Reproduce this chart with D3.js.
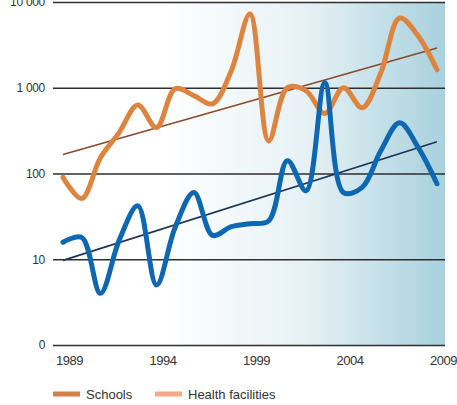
<!DOCTYPE html>
<html>
<head>
<meta charset="utf-8">
<script src="https://cdn.jsdelivr.net/npm/d3@7"></script>
<style>
  body { margin: 0; background: #fff; }
  text { font-family: "Liberation Sans", Arial, sans-serif; }
</style>
</head>
<body>
<div id="chart"></div>
<script>
var svgWidth = 457;
var svgHeight = 405;

// data
var years = d3.range(1989, 2010);
var schools = [90, 51, 153, 300, 630, 343, 975, 810, 650, 1580, 7250, 240, 1000, 920, 500, 1000, 585, 1500, 6500, 4000, 1620];
var health = [15.8, 18, 4.0, 16.6, 42, 5.0, 23.6, 60, 19, 24, 26, 28, 141, 63, 1145, 60, 69, 185, 390, 200, 76];
var schoolsTrend = [167, 2900];
var healthTrend = [9.7, 235];
var yTicks = [1, 10, 100, 1000, 10000];
var yTickLabels = ["0", "10", "100", "1 000", "10 000"];
var xTicks = [1989, 1994, 1999, 2004, 2009];
var legendItems = ["Schools", "Health facilities"];
var legendColors = ["#d3804a", "#f6a887"];

var plotLeft = 53, plotRight = 445, plotTop = 2, plotBottom = 345;

var svg = d3.select("#chart")
  .append("svg")
    .attr("width", svgWidth)
    .attr("height", svgHeight);

var x = d3.scaleLinear().domain([1989, 2009]).range([63, 437]);
var y = d3.scaleLog().domain([1, 10000]).range([plotBottom, plotTop]);

// background gradient
var grad = svg.append("defs").append("linearGradient")
  .attr("id", "bg")
  .attr("x1", "0%").attr("x2", "100%").attr("y1", "0%").attr("y2", "0%");
grad.append("stop").attr("offset", "28%").attr("stop-color", "#ffffff");
grad.append("stop").attr("offset", "65%").attr("stop-color", "#e6f1f5");
grad.append("stop").attr("offset", "100%").attr("stop-color", "#a8d1de");

svg.append("rect")
  .attr("x", plotLeft).attr("y", plotTop)
  .attr("width", plotRight - plotLeft).attr("height", plotBottom - plotTop)
  .attr("fill", "url(#bg)");

// grid lines + y labels
var yAxis = d3.axisLeft(y)
  .tickValues(yTicks)
  .tickFormat(function(d, i) { return yTickLabels[i]; })
  .tickSize(-(plotRight - plotLeft))
  .tickPadding(8);

var yg = svg.append("g")
  .attr("transform", `translate(${plotLeft}, 0)`)
  .call(yAxis);
yg.select(".domain").remove();
yg.selectAll("line").attr("stroke", "#2e2e2e").attr("stroke-width", 1.5);
yg.selectAll("text")
  .attr("fill", "#333")
  .style("font-size", "12px")
  .style("letter-spacing", "-0.3px");

// x labels
var xAxis = d3.axisBottom(x).tickValues(xTicks).tickFormat(d3.format("d")).tickSize(0);
var xg = svg.append("g")
  .attr("transform", `translate(0, ${plotBottom + 8})`)
  .call(xAxis);
xg.select(".domain").remove();
xg.selectAll("text")
  .attr("fill", "#333")
  .attr("dx", 6)
  .style("font-size", "13px")
  .style("letter-spacing", "-0.5px");

// trend lines
var trendLine = d3.line()
  .x(function(d, i) { return x(i === 0 ? 1989 : 2009); })
  .y(function(d) { return y(d); });

svg.append("path")
  .attr("d", trendLine(schoolsTrend))
  .attr("fill", "none")
  .attr("stroke", "#8a4a2a")
  .attr("stroke-width", 1.6);

svg.append("path")
  .attr("d", trendLine(healthTrend))
  .attr("fill", "none")
  .attr("stroke", "#1c3557")
  .attr("stroke-width", 1.6);

// series
var line = d3.line()
  .x(function(d, i) { return x(years[i]); })
  .y(function(d) { return y(d); })
  .curve(d3.curveCatmullRom.alpha(0.5));

svg.append("path")
  .attr("d", line(schools))
  .attr("fill", "none")
  .attr("stroke", "#dd853f")
  .attr("stroke-width", 5)
  .attr("stroke-linecap", "round");

svg.append("path")
  .attr("d", line(health))
  .attr("fill", "none")
  .attr("stroke", "#0d67b3")
  .attr("stroke-width", 5)
  .attr("stroke-linecap", "round");

// legend
var legend = svg.append("g").attr("transform", "translate(53, 394)");
var lg = legend.selectAll("g")
  .data(legendItems)
  .enter()
  .append("g")
  .attr("transform", function(d, i) { return `translate(${i * 102}, 0)`; });
lg.append("rect")
  .attr("x", 0).attr("y", -2.5)
  .attr("width", 27).attr("height", 5)
  .attr("fill", function(d, i) { return legendColors[i]; });
lg.append("text")
  .attr("x", 33).attr("y", 5)
  .attr("fill", "#333")
  .style("font-size", "13px")
  .text(function(d) { return d; });
</script>
</body>
</html>
